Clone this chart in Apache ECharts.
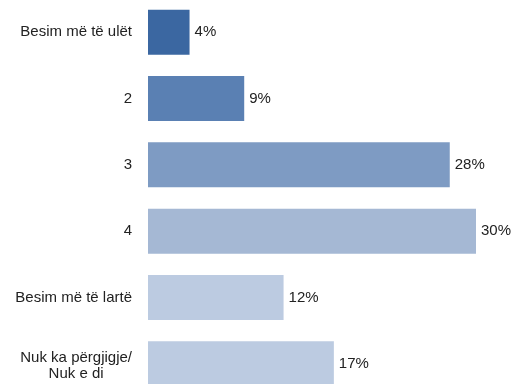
<!DOCTYPE html>
<html>
<head>
<meta charset="utf-8">
<script src="https://cdn.jsdelivr.net/npm/echarts@6/dist/echarts.min.js"></script>
<style>html,body{margin:0;padding:0;background:#fff}#c{width:515px;height:384px}</style>
</head>
<body>
<div id="c"></div>
<script>
var categories = ['Besim më të ulët', '2', '3', '4', 'Besim më të lartë', 'Nuk ka përgjigje/\nNuk e di'];
var values = [3.8, 8.8, 27.6, 30, 12.4, 17.0];
var colors = ['#3B67A1', '#5A80B3', '#7E9BC3', '#A5B8D4', '#BCCBE1', '#BCCBE1'];

var FONT = 'Liberation Sans, Arial, sans-serif';
var chart = echarts.init(document.getElementById('c'));
chart.setOption({
  animation: false,
  grid: { left: 148, top: -1, width: 328, height: 398, outerBoundsMode: 'none', containLabel: false },
  xAxis: { type: 'value', min: 0, max: 30, show: false },
  yAxis: {
    type: 'category',
    inverse: true,
    data: categories,
    axisLine: { show: false },
    axisTick: { show: false },
    axisLabel: {
      margin: 16,
      color: '#222',
      fontFamily: FONT,
      fontSize: 15,
      formatter: function (v) {
        if (v.indexOf('\n') < 0) return v;
        var parts = v.split('\n');
        return '{a|' + parts[0] + '}\n{b|' + parts[1] + '}';
      },
      rich: {
        a: { align: 'center', fontSize: 15, lineHeight: 20, padding: [8, 0, 0, 0], color: '#222', fontFamily: FONT },
        b: { align: 'center', fontSize: 15, lineHeight: 20, color: '#222', fontFamily: FONT }
      }
    }
  },
  series: [{
    type: 'bar',
    barWidth: 45,
    data: values.map(function (v, i) { return { value: v, itemStyle: { color: colors[i] } }; }),
    label: {
      show: true,
      position: 'right',
      distance: 5,
      color: '#222',
      fontFamily: FONT,
      fontSize: 15,
      formatter: function (p) { return Math.round(p.value) + '%'; }
    }
  }]
});
</script>
</body>
</html>
